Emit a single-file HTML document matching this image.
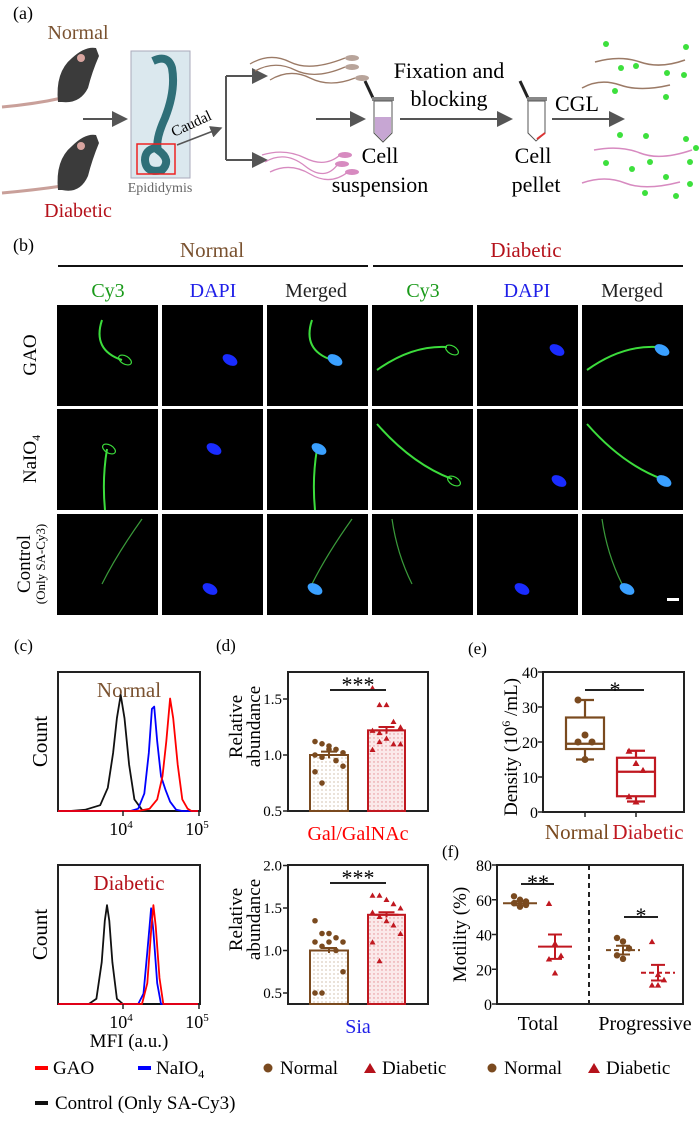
<!DOCTYPE html>
<html><head><meta charset="utf-8"><style>
html,body{margin:0;padding:0;background:#fff}
svg, svg text, svg tspan{font-family:"Liberation Serif","Times New Roman",serif}
</style></head><body>
<svg id="fig" width="700" height="1116" viewBox="0 0 700 1116" xmlns="http://www.w3.org/2000/svg" font-family="Liberation Serif, Times New Roman, serif">
<defs>
<pattern id="dotsBrown" width="4" height="4" patternUnits="userSpaceOnUse"><rect width="4" height="4" fill="#fff"/><circle cx="2" cy="2" r="0.6" fill="#b89a7a"/></pattern>
<pattern id="dotsRed" width="4" height="4" patternUnits="userSpaceOnUse"><rect width="4" height="4" fill="#fbe9ea"/><circle cx="2" cy="2" r="0.7" fill="#e48a90"/></pattern>
<marker id="arr" markerWidth="8" markerHeight="8" refX="7" refY="4" orient="auto"><path d="M0,0 L8,4 L0,8 z" fill="#555"/></marker>
</defs>

<!-- (a) workflow -->
<g>
<text x="13" y="19" font-size="18">(a)</text>
<text x="78" y="39" font-size="20" fill="#7a5230" text-anchor="middle">Normal</text>
<text x="78" y="217" font-size="20" fill="#b5121b" text-anchor="middle">Diabetic</text>
<g>
<path d="M2,107 Q35,104 62,98" stroke="#c9a09a" stroke-width="3" fill="none"/>
<path d="M58,102 Q55,72 72,58 Q85,46 96,48 L99,56 Q92,72 88,88 Q80,104 62,102 Z" fill="#3b3b3b"/>
<circle cx="81" cy="58" r="4" fill="#d9a5a0"/></g>
<g>
<path d="M2,193 Q35,190 62,186" stroke="#c9a09a" stroke-width="3" fill="none"/>
<path d="M58,190 Q55,160 72,146 Q85,133 96,135 L99,143 Q92,160 88,176 Q80,194 62,190 Z" fill="#3b3b3b"/>
<circle cx="81" cy="146" r="4" fill="#d9a5a0"/></g>
<line x1="83" y1="119" x2="126" y2="119" stroke="#555" stroke-width="2" marker-end="url(#arr)"/>
<rect x="131" y="51" width="59" height="127" fill="#dbe8ee" stroke="#aab"/>
<path d="M153,61 Q168,54 172,68 Q176,90 165,118 Q155,140 158,150 Q172,160 162,170 Q146,174 145,160 Q145,150 155,148" stroke="#2f6f78" stroke-width="8" fill="none"/>
<rect x="137" y="144" width="38" height="30" fill="none" stroke="#e22" stroke-width="1.5"/>
<text x="160" y="192" font-size="14" fill="#666" text-anchor="middle">Epididymis</text>
<line x1="177" y1="145" x2="221" y2="128" stroke="#555" stroke-width="1.5" marker-end="url(#arr)"/>
<text x="174" y="137" font-size="15" transform="rotate(-25 174 137)">Caudal</text>
<path d="M226,76 L226,160" stroke="#555" stroke-width="2"/>
<line x1="226" y1="76" x2="266" y2="76" stroke="#555" stroke-width="2" marker-end="url(#arr)"/>
<line x1="226" y1="160" x2="266" y2="160" stroke="#555" stroke-width="2" marker-end="url(#arr)"/>
<g stroke="#9b7a66" stroke-width="1.3" fill="none">
<path d="M250,64 Q270,52 290,62 T345,58"/><path d="M255,71 Q275,60 295,70 T345,67"/><path d="M270,80 Q290,68 310,78 T355,78"/></g>
<g fill="#b8a49a"><ellipse cx="352" cy="58" rx="7" ry="3"/><ellipse cx="352" cy="67" rx="7" ry="3"/><ellipse cx="362" cy="78" rx="7" ry="3"/></g>
<g stroke="#d78ac0" stroke-width="1.3" fill="none">
<path d="M262,155 Q285,148 305,158 T340,155"/><path d="M265,162 Q285,150 305,166 T338,164"/><path d="M270,172 Q290,162 310,174 T348,172"/></g>
<g fill="#d78ac0"><ellipse cx="345" cy="155" rx="7" ry="3"/><ellipse cx="342" cy="164" rx="7" ry="3"/><ellipse cx="352" cy="172" rx="7" ry="3"/></g>
<line x1="316" y1="119" x2="364" y2="119" stroke="#555" stroke-width="2" marker-end="url(#arr)"/>
<g>
<path d="M365,81 L373,98" stroke="#222" stroke-width="3"/>
<rect x="372" y="97" width="22" height="4" fill="#888"/>
<path d="M374,101 L374,133 L383,142 L392,133 L392,101 Z" fill="#fff" stroke="#555"/>
<path d="M375,117 L391,117 L391,133 L383,141 L375,133 Z" fill="#c7a6d3"/></g>
<text x="380" y="163" font-size="22" text-anchor="middle">Cell</text>
<text x="380" y="192" font-size="22" text-anchor="middle">suspension</text>
<text x="449" y="78" font-size="22" text-anchor="middle">Fixation and</text>
<text x="449" y="106" font-size="22" text-anchor="middle">blocking</text>
<line x1="400" y1="119" x2="511" y2="119" stroke="#555" stroke-width="2" marker-end="url(#arr)"/>
<g>
<path d="M520,81 L528,98" stroke="#222" stroke-width="3"/>
<rect x="527" y="97" width="20" height="4" fill="#888"/>
<path d="M528,101 L528,133 L536,141 L545,133 L545,101 Z" fill="#fff" stroke="#555"/>
<path d="M537,139 L545,133" stroke="#d33" stroke-width="2"/></g>
<text x="533" y="163" font-size="22" text-anchor="middle">Cell</text>
<text x="536" y="192" font-size="22" text-anchor="middle">pellet</text>
<text x="555" y="111" font-size="22">CGL</text>
<line x1="552" y1="119" x2="623" y2="119" stroke="#555" stroke-width="2" marker-end="url(#arr)"/>
<g>
<g stroke="#9b7a66" stroke-width="1.5" fill="none"><path d="M595,62 Q620,55 640,62 T685,60"/><path d="M582,88 Q600,78 620,85 T670,85"/></g>
<g stroke="#d78ac0" stroke-width="1.5" fill="none"><path d="M594,150 Q620,145 640,153 T692,150"/><path d="M582,183 Q605,175 625,183 T680,182"/></g>
<g fill="#3de03d"><circle cx="606" cy="44" r="3"/><circle cx="686" cy="47" r="3"/><circle cx="621" cy="68" r="3"/><circle cx="636" cy="66" r="3"/><circle cx="667" cy="73" r="3"/><circle cx="684" cy="75" r="3"/><circle cx="615" cy="91" r="3"/><circle cx="666" cy="97" r="3"/>
<circle cx="620" cy="135" r="3"/><circle cx="646" cy="136" r="3"/><circle cx="686" cy="139" r="3"/><circle cx="696" cy="148" r="3"/><circle cx="690" cy="162" r="3"/><circle cx="650" cy="162" r="3"/><circle cx="606" cy="163" r="3"/><circle cx="632" cy="169" r="3"/><circle cx="666" cy="177" r="3"/><circle cx="690" cy="184" r="3"/><circle cx="676" cy="196" r="3"/><circle cx="645" cy="193" r="3"/></g></g>
</g>

<!-- (b) microscopy -->
<g>
<text x="13" y="251" font-size="18">(b)</text>
<text x="212" y="257" font-size="21" fill="#7a5230" text-anchor="middle">Normal</text>
<text x="526" y="257" font-size="21" fill="#b5121b" text-anchor="middle">Diabetic</text>
<line x1="58" y1="266" x2="368" y2="266" stroke="#111" stroke-width="2"/>
<line x1="373" y1="266" x2="683" y2="266" stroke="#111" stroke-width="2"/>
<g font-size="20" text-anchor="middle">
<text x="108" y="297" fill="#1a9a1a">Cy3</text>
<text x="213" y="297" fill="#1f1fe8">DAPI</text>
<text x="316" y="297" fill="#222">Merged</text>
<text x="423" y="297" fill="#1a9a1a">Cy3</text>
<text x="527" y="297" fill="#1f1fe8">DAPI</text>
<text x="632" y="297" fill="#222">Merged</text></g>
<g font-size="19" text-anchor="middle">
<text transform="translate(36 355) rotate(-90)">GAO</text>
<text transform="translate(36 459) rotate(-90)">NaIO<tspan font-size="12" dy="4">4</tspan></text>
<text transform="translate(30 564) rotate(-90)">Control</text>
<text transform="translate(45 564) rotate(-90)" font-size="13">(Only SA-Cy3)</text></g>
<g id="micro"></g>
<rect x="667" y="598" width="12" height="3" fill="#fff"/>
</g>

<!-- (c) flow -->
<g>
<text x="14" y="651" font-size="17">(c)</text>
<g id="flowTop"></g><g id="flowBot"></g>
<text x="129" y="1047" font-size="19" text-anchor="middle">MFI (a.u.)</text>
</g>
<g>
<text x="216" y="651" font-size="17">(d)</text>
<g id="dTop"></g><g id="dBot"></g>
</g>
<g>
<text x="468" y="654" font-size="17">(e)</text>
<g id="eBox"></g>
</g>
<g>
<text x="442" y="857" font-size="17">(f)</text>
<g id="fBox"></g>
</g>

<!-- legends -->
<g font-size="19">
<rect x="35" y="1066" width="13" height="4" fill="#f00"/>
<text x="53" y="1074">GAO</text>
<rect x="138" y="1066" width="13" height="4" fill="#00f"/>
<text x="156" y="1074">NaIO<tspan font-size="12" dy="4">4</tspan></text>
<rect x="35" y="1101" width="13" height="4" fill="#111"/>
<text x="55" y="1109">Control (Only SA-Cy3)</text>
<circle cx="268" cy="1068" r="4.5" fill="#7a4a1f"/><text x="280" y="1074">Normal</text>
<path d="M364,1073 L370,1063 L376,1073 Z" fill="#b5121b"/><text x="382" y="1074">Diabetic</text>
<circle cx="492" cy="1068" r="4.5" fill="#7a4a1f"/><text x="504" y="1074">Normal</text>
<path d="M588,1073 L594,1063 L600,1073 Z" fill="#b5121b"/><text x="606" y="1074">Diabetic</text>
</g>
</svg>
<script>
// ---------- data ----------
const flowNormalBlack=[[3.3,0],[3.5,0.01],[3.7,0.05],[3.8,0.2],[3.87,0.5],[3.92,0.8],[3.97,1.0],[4.02,0.8],[4.08,0.4],[4.15,0.1],[4.25,0.01],[4.35,0]];
const flowNormalBlue=[[4.1,0],[4.2,0.02],[4.28,0.15],[4.34,0.5],[4.38,0.88],[4.41,0.9],[4.45,0.6],[4.5,0.3],[4.56,0.18],[4.62,0.08],[4.7,0.01],[4.78,0]];
const flowNormalRed=[[4.2,0],[4.35,0.02],[4.45,0.1],[4.52,0.3],[4.57,0.6],[4.62,0.97],[4.66,0.8],[4.72,0.4],[4.78,0.1],[4.85,0.02],[4.9,0]];
const flowDiabBlack=[[3.55,0],[3.65,0.05],[3.72,0.4],[3.76,0.8],[3.79,0.95],[3.82,0.8],[3.86,0.4],[3.92,0.05],[4.0,0]];
const flowDiabBlue=[[4.2,0],[4.27,0.1],[4.32,0.5],[4.35,0.75],[4.37,0.92],[4.4,0.7],[4.45,0.2],[4.5,0]];
const flowDiabRed=[[4.25,0],[4.32,0.2],[4.37,0.7],[4.4,0.95],[4.43,0.75],[4.48,0.25],[4.53,0]];
const galNormal=[1.12,1.1,1.08,1.05,1.02,1.0,0.98,1.05,0.95,0.9,0.85,0.75];
const galDiabetic=[1.6,1.45,1.45,1.3,1.25,1.22,1.2,1.15,1.1,1.1,1.05,1.12];
const galMeans=[1.0,1.22];
const siaNormal=[1.35,1.2,1.2,1.15,1.1,1.1,1.05,1.1,1.0,0.75,0.5,0.5];
const siaDiabetic=[1.65,1.65,1.6,1.55,1.5,1.45,1.4,1.35,1.3,1.2,1.1,0.88];
const siaMeans=[1.0,1.42];
const densNormal=[32,22,20,20,15];
const densDiabetic=[17.5,14,12,4.5,3];
const densBoxNormal=[15,18,19.5,27,32];   // min,q1,median,q3,max
const densBoxDiabetic=[3,4.5,11.5,15.5,17.5];
const motTotalNormal=[62,60,59,58,56,57];
const motTotalDiabetic=[58,35,28,26,18];
const motProgNormal=[38,36,32,28,26];
const motProgDiabetic=[36,17,14,11,11];
const motMeans=[58,33,31,18];
const motSem=[1.2,7,2.5,4.5];
const dTicks=[0.5,1.0,1.5];
const dTicks2=[0.5,1.0,1.5,2.0];
const eTicks=[0,10,20,30,40];
const fTicks=[0,20,40,60,80];

const NS='http://www.w3.org/2000/svg';
function mk(parent,tag,attrs){const e=document.createElementNS(NS,tag);for(const k in attrs)e.setAttribute(k,attrs[k]);parent.appendChild(e);return e;}
function txt(parent,x,y,s,attrs){const e=mk(parent,'text',Object.assign({x:x,y:y},attrs||{}));e.textContent=s;return e;}

// ---------- microscopy ----------
const micro=document.getElementById('micro');
const cols=[57,162,267,372,477,582], rows=[305,409,514];
const kinds=['cy3','dapi','merged','cy3','dapi','merged'];
rows.forEach((ry,ri)=>cols.forEach((cx,ci)=>{
  const r=mk(micro,'rect',{x:cx,y:ry,width:101,height:101,fill:'#000'});
  
  
  const diab=ci>=3, k=kinds[ci];
  let tail, hx, hy;
  if(ri===0){tail=diab?`M${cx+5},${ry+65} Q${cx+40},${ry+40} ${cx+75},${ry+42}`:`M${cx+45},${ry+15} Q${cx+35},${ry+45} ${cx+65},${ry+55}`;hx=diab?cx+80:cx+68;hy=diab?ry+45:ry+55;}
  else if(ri===1){tail=diab?`M${cx+5},${ry+15} Q${cx+40},${ry+55} ${cx+80},${ry+70}`:`M${cx+48},${ry+101} Q${cx+45},${ry+70} ${cx+50},${ry+40}`;hx=diab?cx+82:cx+52;hy=diab?ry+72:ry+40;}
  else {tail=diab?`M${cx+20},${ry+5} Q${cx+25},${ry+40} ${cx+40},${ry+70}`:`M${cx+85},${ry+5} Q${cx+60},${ry+40} ${cx+45},${ry+70}`;hx=diab?cx+45:cx+48;hy=ry+75;}
  const bright = ri===2?'#3a9a3a':'#3cdc3c';
  if(k!=='dapi') mk(micro,'path',{d:tail,stroke:bright,'stroke-width':ri===2?1.2:2,fill:'none'});
  if(k!=='cy3') mk(micro,'ellipse',{cx:hx,cy:hy,rx:8,ry:5,fill:k==='merged'?'#3aa0ff':'#1a2cff',transform:`rotate(30 ${hx} ${hy})`});
  else if(ri<2) mk(micro,'ellipse',{cx:hx,cy:hy,rx:7,ry:4,fill:'none',stroke:'#3cdc3c','stroke-width':1.2,transform:`rotate(30 ${hx} ${hy})`});
}));

// ---------- (c) flow histograms ----------
function flowPanel(g,top,bottom,label,labColor,series,peakY){
  const L=58,R=200;
  const x=v=>123+(v-4)*76;
  const y=h=>bottom-h*(bottom-peakY);
  const box=mk(g,'rect',{x:L,y:top,width:R-L,height:bottom-top,fill:'none',stroke:'#222','stroke-width':2});
  
  
  const t=txt(g,129,top+25,label,{'font-size':21,fill:labColor,'text-anchor':'middle'});
  
  
  series.forEach(([pts,col,nm])=>{
    const d='M'+L+','+bottom+' L'+pts.map(p=>x(p[0]).toFixed(1)+','+y(p[1]).toFixed(1)).join(' L')+' L'+(R-2)+','+bottom;
    const p=mk(g,'path',{d:d,stroke:col,'stroke-width':1.8,fill:'none','stroke-linejoin':'round'});
    
    
  });
  [4,5].forEach(v=>{mk(g,'line',{x1:x(v),y1:bottom,x2:x(v),y2:bottom+5,stroke:'#222','stroke-width':1.5});
    const tl=txt(g,x(v)-2,bottom+24,'10',{'font-size':18,'text-anchor':'middle'});
    
    
    const s=mk(tl,'tspan',{dy:-7,'font-size':11});s.textContent=String(v);});
  const yl=txt(g,0,0,'Count',{'font-size':21,'text-anchor':'middle',transform:`translate(47 ${(top+bottom)/2}) rotate(-90)`});
  
  
}
flowPanel(document.getElementById('flowTop'),672,811,'Normal','#7a5230',
  [[flowNormalBlack,'#111','control-curve-normal'],[flowNormalBlue,'#00f','naio4-curve-normal'],[flowNormalRed,'#f00','gao-curve-normal']],695);
flowPanel(document.getElementById('flowBot'),865,1004,'Diabetic','#b5121b',
  [[flowDiabBlack,'#111','control-curve-diabetic'],[flowDiabBlue,'#00f','naio4-curve-diabetic'],[flowDiabRed,'#f00','gao-curve-diabetic']],900);

// ---------- (d) bars ----------
function tri(g,cx,cy,s,col){return mk(g,'path',{d:`M${cx-s},${cy+s*0.85} L${cx},${cy-s*0.9} L${cx+s},${cy+s*0.85} Z`,fill:col});}
function barPanel(g,top,bottom,yAt,ticks,nv,dv,means,cat,catCol){
  const L=288,R=428;
  mk(g,'path',{d:`M${L},${top} L${R},${top} L${R},${bottom} L${L},${bottom} Z`,fill:'none',stroke:'#222','stroke-width':2});
  ticks.forEach(t=>{const yy=yAt(t);mk(g,'line',{x1:L-5,y1:yy,x2:L,y2:yy,stroke:'#222','stroke-width':1.5});
    const tl=txt(g,L-6,yy+5,t.toFixed(1),{'font-size':15,'text-anchor':'end'});
    
    });
  const bx=[[310,348,'url(#dotsBrown)','#7a4a1f'],[368,405,'url(#dotsRed)','#c01820']];
  [nv,dv].forEach((vals,i)=>{
    const [x1,x2,fill,col]=bx[i];
    const b=mk(g,'rect',{x:x1,y:yAt(means[i]),width:x2-x1,height:bottom-yAt(means[i]),fill:fill,stroke:col,'stroke-width':2});
    
    
    const cx=(x1+x2)/2, sem=0.03;
    mk(g,'path',{d:`M${cx},${yAt(means[i]-sem)} L${cx},${yAt(means[i]+sem)} M${cx-8},${yAt(means[i]+sem)} L${cx+8},${yAt(means[i]+sem)} M${cx-12},${yAt(means[i])} L${cx+12},${yAt(means[i])}`,stroke:col,'stroke-width':2});
    vals.forEach((v,j)=>{const ox=((j%5)-2)*7;const px=cx+ox, py=yAt(v);
      const m=i?tri(g,px,py,3,col):mk(g,'circle',{cx:px,cy:py,r:2.8,fill:col});
      
      });
  });
  mk(g,'line',{x1:330,y1:top+18,x2:386,y2:top+18,stroke:'#222','stroke-width':2});
  txt(g,358,top+20,'***',{'font-size':22,'text-anchor':'middle'});
  const c=txt(g,358,top+168,cat,{'font-size':20,fill:catCol,'text-anchor':'middle'});
  
  
  const y1=txt(g,0,0,'Relative',{'font-size':19,'text-anchor':'middle',transform:`translate(242 ${(top+bottom)/2-15}) rotate(-90)`});
  
  
  txt(g,0,0,'abundance',{'font-size':19,'text-anchor':'middle',transform:`translate(260 ${(top+bottom)/2-15}) rotate(-90)`});
}
barPanel(document.getElementById('dTop'),672,811,v=>811-(v-0.5)*112,dTicks,galNormal,galDiabetic,galMeans,'Gal/GalNAc','#f00');
barPanel(document.getElementById('dBot'),865,1004,v=>993-(v-0.5)*85,dTicks2,siaNormal,siaDiabetic,siaMeans,'Sia','#1f1fe8');

// ---------- (e) box plot ----------
(function(){
  const g=document.getElementById('eBox');
  const L=543,R=684,T=672,B=812, y=v=>B-v*(B-T)/40;
  mk(g,'path',{d:`M${L},${T} L${R},${T} L${R},${B} L${L},${B} Z`,fill:'none',stroke:'#222','stroke-width':2});
  eTicks.forEach(t=>{mk(g,'line',{x1:L-5,y1:y(t),x2:L,y2:y(t),stroke:'#222','stroke-width':1.5});
    const tl=txt(g,L-5,y(t)+6,String(t),{'font-size':16,'text-anchor':'end'});
    
    });
  [[585,densBoxNormal,densNormal,'#7a4a1f','Normal'],[636,densBoxDiabetic,densDiabetic,'#c01820','Diabetic']].forEach(([cx,bx,pts,col,nm],i)=>{
    mk(g,'line',{x1:cx,y1:B,x2:cx,y2:B+5,stroke:'#222','stroke-width':1.5});
    const b=mk(g,'rect',{x:cx-19,y:y(bx[3]),width:38,height:y(bx[1])-y(bx[3]),fill:'none',stroke:col,'stroke-width':2.2});
    
    
    mk(g,'path',{d:`M${cx-19},${y(bx[2])} L${cx+19},${y(bx[2])} M${cx},${y(bx[3])} L${cx},${y(bx[4])} M${cx},${y(bx[1])} L${cx},${y(bx[0])} M${cx-9},${y(bx[4])} L${cx+9},${y(bx[4])} M${cx-9},${y(bx[0])} L${cx+9},${y(bx[0])}`,stroke:col,'stroke-width':2.2,fill:'none'});
    pts.forEach((v,j)=>{const px=cx+((j%3)-1)*7;const m=i?tri(g,px,y(v),3.5,col):mk(g,'circle',{cx:px,cy:y(v),r:3.5,fill:col});
      
      });
    const lb=txt(g,cx+(i?12:-8),B+27,nm,{'font-size':21,fill:col,'text-anchor':'middle'});
    
    
  });
  mk(g,'line',{x1:585,y1:690,x2:644,y2:690,stroke:'#222','stroke-width':2});
  txt(g,615,697,'*',{'font-size':22,'text-anchor':'middle'});
  const yt=txt(g,0,0,'',{'font-size':19,'text-anchor':'middle',transform:`translate(517 ${(T+B)/2+5}) rotate(-90)`});
  
  
  yt.textContent='Density (10';const s1=mk(yt,'tspan',{dy:-7,'font-size':12});s1.textContent='6';const s2=mk(yt,'tspan',{dy:7});s2.textContent=' /mL)';
})();

// ---------- (f) motility ----------
(function(){
  const g=document.getElementById('fBox');
  const L=497,R=683,T=865,B=1004, y=v=>B-v*(B-T)/80;
  mk(g,'path',{d:`M${L},${T} L${R},${T} L${R},${B} L${L},${B} Z`,fill:'none',stroke:'#222','stroke-width':2});
  mk(g,'line',{x1:589,y1:T,x2:589,y2:B,stroke:'#222','stroke-width':2,'stroke-dasharray':'5,4'});
  fTicks.forEach(t=>{mk(g,'line',{x1:L-5,y1:y(t),x2:L,y2:y(t),stroke:'#222','stroke-width':1.5});
    const tl=txt(g,L-5,y(t)+6,String(t),{'font-size':16,'text-anchor':'end'});
    
    });
  const groups=[[520,motTotalNormal,'#7a4a1f',0,false],[555,motTotalDiabetic,'#c01820',1,false],[623,motProgNormal,'#7a4a1f',2,true],[658,motProgDiabetic,'#c01820',3,true]];
  groups.forEach(([cx,pts,col,k,dash])=>{
    const m=motMeans[k], s=motSem[k];
    mk(g,'line',{x1:cx-17,y1:y(m),x2:cx+17,y2:y(m),stroke:col,'stroke-width':2,'stroke-dasharray':dash?'5,3':'none'});
    mk(g,'path',{d:`M${cx},${y(m-s)} L${cx},${y(m+s)} M${cx-7},${y(m+s)} L${cx+7},${y(m+s)} M${cx-7},${y(m-s)} L${cx+7},${y(m-s)}`,stroke:col,'stroke-width':2,fill:'none'});
    pts.forEach((v,j)=>{const px=cx+((j%3)-1)*6;const mm=(k%2)?tri(g,px,y(v),3.2,col):mk(g,'circle',{cx:px,cy:y(v),r:3.2,fill:col});
      
      });
  });
  mk(g,'line',{x1:521,y1:884,x2:554,y2:884,stroke:'#222','stroke-width':2});
  txt(g,538,890,'**',{'font-size':22,'text-anchor':'middle'});
  mk(g,'line',{x1:624,y1:917,x2:658,y2:917,stroke:'#222','stroke-width':2});
  txt(g,641,923,'*',{'font-size':22,'text-anchor':'middle'});
  const t1=txt(g,538,1030,'Total',{'font-size':20,'text-anchor':'middle'});
  
  
  const t2=txt(g,645,1030,'Progressive',{'font-size':20,'text-anchor':'middle'});
  
  
  const yt=txt(g,0,0,'Motility (%)',{'font-size':19,'text-anchor':'middle',transform:`translate(466 ${(T+B)/2}) rotate(-90)`});
  
  
})();
</script>
</body></html>
